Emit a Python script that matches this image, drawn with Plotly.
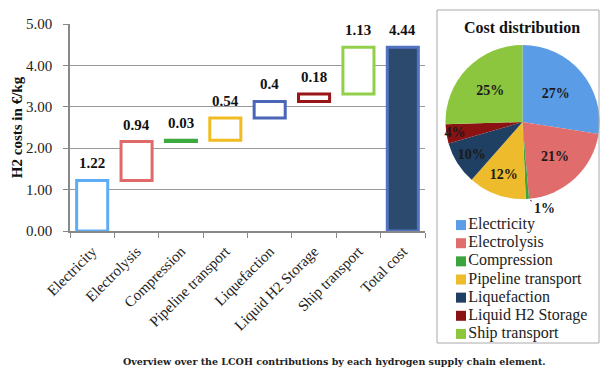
import numpy as np
import plotly.graph_objects as go

categories = ["Electricity", "Electrolysis", "Compression", "Pipeline transport",
              "Liquefaction", "Liquid H2 Storage", "Ship transport", "Total cost"]
costs = [1.22, 0.94, 0.03, 0.54, 0.40, 0.18, 1.13]
total_cost = 4.44
value_labels = ["1.22", "0.94", "0.03", "0.54", "0.4", "0.18", "1.13", "4.44"]
pie_labels = ["27%", "21%", "1%", "12%", "10%", "4%", "25%"]
y_ticks = [0, 1, 2, 3, 4, 5]

bar_line_colors = ["#5EACF6", "#E06A6A", "#3DAA3D", "#F0BC22", "#4A66B6", "#9A1515", "#92D04C", "#5272C2"]
bar_fill_colors = ["white"] * 7 + ["#2C4A6E"]
pie_colors = ["#5A9CE6", "#E06C6C", "#3DA33D", "#EDBB2B", "#1F3F63", "#8B1212", "#8CC63F"]

bases = list(np.concatenate([[0], np.cumsum(costs)[:-1]])) + [0]
heights = costs + [total_cost]
tops = [b + h for b, h in zip(bases, heights)]

SERIF = "Liberation Serif"

fig = go.Figure()
fig.add_trace(go.Bar(
    x=categories, y=heights, base=bases,
    marker=dict(color=bar_fill_colors, line=dict(color=bar_line_colors, width=3)),
    width=0.7, showlegend=False, hoverinfo="skip",
))

# value labels above each bar
for cat, top, lab in zip(categories, tops, value_labels):
    fig.add_annotation(x=cat, y=top, xref="x", yref="y", text=f"<b>{lab}</b>",
                       showarrow=False, yshift=17, xanchor="center", yanchor="middle",
                       font=dict(family=SERIF, size=15, color="#111111"))

fig.add_trace(go.Pie(
    labels=categories[:7], values=costs, text=pie_labels,
    textinfo="text", sort=False, direction="clockwise", rotation=0,
    marker=dict(colors=pie_colors, line=dict(width=0)),
    textposition=["inside", "inside", "none", "inside", "inside", "inside", "inside"],
    insidetextorientation="horizontal",
    textfont=dict(family=SERIF, size=14, color="#1a1a1a", weight="bold"),
    domain=dict(x=[445/600, 600/600], y=[1-199/371, 1-45/371]),
    hoverinfo="skip", showlegend=False,
))

# legend of the pie, drawn as a categorical marker list
fig.add_trace(go.Scatter(
    x=[0] * 7, y=categories[:7], mode="markers+text",
    marker=dict(symbol="square", size=10, color=pie_colors),
    text=categories[:7], textposition="middle right",
    textfont=dict(family=SERIF, size=16, color="#222222"),
    xaxis="x2", yaxis="y2", showlegend=False, hoverinfo="skip", cliponaxis=False,
))

fig.add_annotation(
    x=530/600, y=1-200/371, xref="paper", yref="paper",
    text="<b>1%</b>", showarrow=True, arrowhead=0, arrowcolor="#555555", arrowwidth=1,
    ax=14, ay=9, font=dict(family=SERIF, size=14, color="#1a1a1a"),
)

fig.add_annotation(
    x=522/600, y=1-28/371, xref="paper", yref="paper", showarrow=False,
    xanchor="center", yanchor="middle",
    text="<b>Cost distribution</b>", font=dict(family=SERIF, size=16, color="#111111"),
)

fig.add_annotation(
    x=334/600, y=1-361/371, xref="paper", yref="paper", showarrow=False,
    xanchor="center", yanchor="middle",
    text="<b>Overview over the LCOH contributions by each hydrogen supply chain element.</b>",
    font=dict(family="DejaVu Serif", size=9.5, color="#222222"),
)

fig.add_shape(type="rect", xref="paper", yref="paper",
              x0=437/600, x1=599/600, y0=1-343/371, y1=1-10/371,
              line=dict(color="#AAAAAA", width=1), fillcolor="rgba(0,0,0,0)")

fig.update_layout(
    width=600, height=371,
    margin=dict(l=0, r=0, t=0, b=0),
    paper_bgcolor="white", plot_bgcolor="white",
    uniformtext=dict(minsize=13, mode="show"),
    xaxis=dict(domain=[70/600, 425/600], automargin=False, showline=True, linecolor="#888888", linewidth=1.5,
               ticks="outside", tickson="boundaries", ticklen=5, tickcolor="#888888",
               ticklabelstandoff=4,
               tickangle=-45, tickfont=dict(family=SERIF, size=15, color="#222222"),
               showgrid=False),
    yaxis=dict(domain=[1-231/371, 1-24/371], automargin=False, range=[0, 5], tickvals=y_ticks, tickformat=".2f",
               showline=True, linecolor="#888888", linewidth=1.5, ticks="outside", ticklen=5,
               tickcolor="#888888", showgrid=True, gridcolor="#999999", gridwidth=1,
               ticklabelstandoff=8,
               tickfont=dict(family=SERIF, size=15, color="#222222"),
               title=dict(text="<b>H2 costs in €/kg</b>", font=dict(family=SERIF, size=15, color="#111111"),
                          standoff=0)),
    xaxis2=dict(domain=[456/600, 599/600], range=[-0.5, 13.8], visible=False, fixedrange=True),
    yaxis2=dict(domain=[1-343/371, 1-216/371], range=[6.5, -0.5], visible=False, fixedrange=True,
                type="category", anchor="x2"),
    showlegend=False,
)

fig.write_html("out.html")
